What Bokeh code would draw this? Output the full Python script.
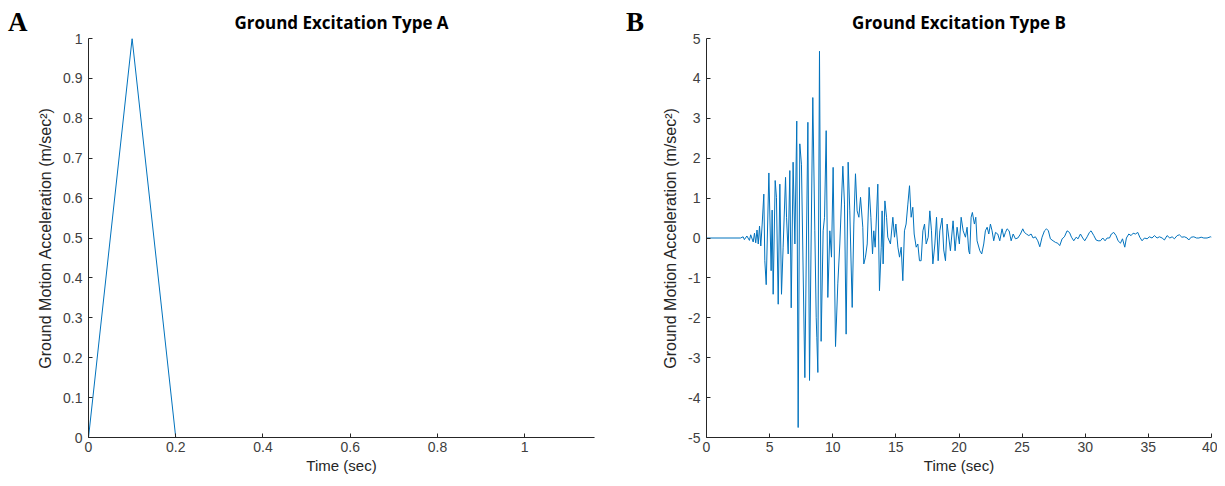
from bokeh.plotting import figure
from bokeh.layouts import row
from bokeh.models import Range1d, FixedTicker, Div
from bokeh.embed import file_html
from bokeh.resources import INLINE

# ---- data: panel A (triangular pulse) ----
time_a = [0.0, 0.1, 0.2, 1.16]
accel_a = [0.0, 1.0, 0.0, 0.0]

# ---- data: panel B (earthquake record) ----
time_b = [0.0, 2.7, 2.9, 3.0, 3.2, 3.4, 3.5, 3.7, 3.8, 3.9, 4.0, 4.1, 4.2, 4.3, 4.41,
          4.54, 4.62, 4.73, 4.94, 5.12, 5.2, 5.28, 5.44, 5.54, 5.68, 5.81, 5.94, 6.07,
          6.26, 6.34, 6.47, 6.6, 6.71, 6.86, 7.0, 7.15, 7.26, 7.39, 7.52, 7.79, 8.03,
          8.16, 8.42, 8.58, 8.69, 8.74, 8.82, 8.95, 9.08, 9.24, 9.35, 9.48, 9.61, 9.77,
          9.9, 10.03, 10.22, 10.4, 10.56, 10.8, 10.93, 11.06, 11.22, 11.35, 11.54, 11.67,
          11.8, 11.93, 12.07, 12.2, 12.38, 12.46, 12.59, 12.73, 12.88, 13.02, 13.15, 13.25,
          13.36, 13.57, 13.7, 13.84, 13.91, 13.99, 14.13, 14.26, 14.36, 14.57, 14.76, 14.89,
          15.0, 15.16, 15.29, 15.42, 15.55, 15.68, 15.81, 15.95, 16.08, 16.21, 16.34, 16.45,
          16.61, 16.74, 16.87, 17.0, 17.14, 17.27, 17.4, 17.56, 17.69, 17.82, 17.93, 18.09,
          18.22, 18.35, 18.48, 18.66, 18.79, 18.93, 19.06, 19.32, 19.53, 19.69, 19.85, 20.03,
          20.17, 20.33, 20.51, 20.64, 20.77, 20.85, 20.96, 21.06, 21.22, 21.33, 21.43, 21.65,
          21.8, 21.96, 22.09, 22.23, 22.36, 22.49, 22.62, 22.75, 22.89, 23.07, 23.23, 23.41,
          23.55, 23.68, 23.81, 23.97, 24.13, 24.29, 24.47, 24.66, 24.87, 25.05, 25.18, 25.34,
          25.53, 25.71, 25.87, 26.05, 26.24, 26.4, 26.58, 26.77, 26.93, 27.08, 27.24, 27.45,
          27.64, 27.82, 27.98, 28.17, 28.35, 28.56, 28.75, 28.91, 29.09, 29.28, 29.43, 29.62,
          29.8, 29.96, 30.15, 30.33, 30.46, 30.68, 30.86, 31.02, 31.2, 31.39, 31.57, 31.73,
          31.92, 32.07, 32.26, 32.44, 32.6, 32.79, 32.95, 33.13, 33.26, 33.45, 33.63, 33.79,
          33.98, 34.16, 34.32, 34.5, 34.69, 34.9, 35.08, 35.29, 35.48, 35.69, 35.88, 36.09,
          36.27, 36.48, 36.7, 36.88, 37.06, 37.28, 37.46, 37.65, 37.86, 38.07, 38.2, 38.39,
          38.6, 38.81, 39.0, 39.18, 39.39, 39.65, 39.92, 40.0]
accel_b = [0.0, 0.0, 0.03, -0.04, 0.05, -0.06, 0.08, -0.1, 0.12, -0.12, 0.2, -0.15, 0.3, -0.2, 0.35,
           1.1, -0.57, -1.17, 1.63, -0.82, 0.7, -1.41, 1.44, 1.02, -1.66, 1.35, -1.41, -0.23,
           1.52, 0.52, -0.4, 1.69, -1.75, 1.9, -0.15, 2.93, -4.75, 2.36, 1.85, -3.5, 2.9,
           -3.57, 3.52, 0.18, -2.0, -2.5, -3.37, 4.68, -2.59, 0.18, 0.52, 2.69, -1.49, 0.18,
           -0.48, 1.77, -2.72, -1.15, -0.15, 1.8, 0.85, -2.41, 1.9, 0.68, -1.74, 0.35,
           1.61, 0.68, 0.52, 1.02, 0.27, -0.65, -0.48, -0.15, 1.27, 0.52, -0.4, 0.18,
           -0.23, 1.35, -1.32, -0.23, 0.68, -0.65, 0.93, 0.52, 0.02, -0.15, 0.52, 0.02,
           0.35, -0.23, -0.48, -0.23, -1.07, 0.18, 0.35, 0.85, 1.31, 0.52, 0.77, 0.1,
           -0.23, -0.15, -0.57, -0.57, 0.18, 0.35, -0.15, 0.02, 0.68, 0.18, -0.65, -0.15,
           0.52, -0.57, 0.18, 0.5, -0.3, -0.57, 0.35, -0.32, 0.43, -0.32, 0.27, -0.15,
           0.52, 0.18, 0.02, 0.27, -0.32, -0.4, 0.52, 0.64, 0.35, 0.52, -0.07, -0.32,
           -0.4, -0.15, 0.18, 0.27, 0.1, 0.35, 0.18, -0.07, 0.14, 0.1, -0.07, 0.23,
           0.02, 0.14, 0.23, 0.18, -0.07, 0.1, -0.02, 0.0, 0.1, 0.23, 0.14, 0.1,
           0.06, 0.1, 0.0, 0.03, -0.07, -0.22, 0.02, 0.18, 0.23, 0.18, -0.02, -0.07,
           -0.11, -0.13, -0.19, -0.02, 0.03, 0.18, 0.14, 0.02, -0.07, 0.02, -0.02, 0.1,
           0.0, -0.07, 0.03, 0.14, 0.18, 0.06, -0.05, -0.07, -0.07, 0.0, -0.07, 0.0,
           0.0, 0.1, 0.14, 0.06, -0.07, -0.13, -0.02, -0.23, 0.0, 0.1, 0.06, 0.12,
           0.1, 0.14, 0.02, -0.07, 0.0, -0.02, 0.03, 0.0, 0.06, 0.0, 0.03, 0.0,
           -0.05, 0.06, 0.0, 0.03, -0.02, 0.06, 0.08, 0.02, 0.03, 0.0, -0.05, 0.02,
           0.03, 0.0, 0.0, 0.02, 0.0, 0.0, 0.03, 0.02]

ticks_ax = [0, 0.2, 0.4, 0.6, 0.8, 1.0]
ticks_ay = [0, 0.1, 0.2, 0.3, 0.4, 0.5, 0.6, 0.7, 0.8, 0.9, 1.0]
ticks_bx = [0, 5, 10, 15, 20, 25, 30, 35, 40]
ticks_by = [-5, -4, -3, -2, -1, 0, 1, 2, 3, 4, 5]

LINE = "#0072BD"
AXC = "#262626"
TICKC = "#404040"
TICKFONT = "Liberation Sans"
YLABEL = "Ground Motion Acceleration (m/sec\u00b2)"


def fmt(v):
    return "%g" % v


def style(p, xt, yt):
    for ax in (p.xaxis, p.yaxis):
        ax.axis_line_color = AXC
        ax.major_tick_line_color = AXC
        ax.major_tick_in = 4
        ax.major_tick_out = 0
        ax.minor_tick_line_color = None
        ax.major_label_text_font = TICKFONT
        ax.major_label_text_font_size = "14px"
        ax.major_label_text_color = TICKC
        ax.axis_label_text_font = TICKFONT
        ax.axis_label_text_font_style = "normal"
        ax.axis_label_text_color = AXC
    p.xaxis.axis_label_text_font_size = "15px"
    p.yaxis.axis_label_text_font_size = "16px"
    p.xaxis.ticker = FixedTicker(ticks=xt)
    p.yaxis.ticker = FixedTicker(ticks=yt)
    p.xaxis.major_label_overrides = {v: fmt(v) for v in xt}
    p.yaxis.major_label_overrides = {v: fmt(v) for v in yt}
    p.xaxis.major_label_standoff = 4
    p.yaxis.major_label_standoff = 6
    p.xaxis.axis_label_standoff = 2
    p.yaxis.axis_label_standoff = 6
    p.xgrid.visible = False
    p.ygrid.visible = False
    p.outline_line_color = None
    p.title.text_font = "Open Sans"
    p.title.text_font_size = "17px"
    p.title.text_font_style = "bold"
    p.title.align = "center"
    p.title.text_color = "#000000"


def letter(t):
    return Div(text=t, width=30, height=40,
               styles={"font-family": "Liberation Serif", "font-weight": "bold",
                       "font-size": "27px", "color": "#000000", "line-height": "27px",
                       "padding-left": "8px", "padding-top": "9px", "margin": "0"})


pa = figure(frame_width=506, frame_height=399, output_backend="svg", toolbar_location=None,
            x_range=Range1d(0, 1.16), y_range=Range1d(0, 1),
            title="Ground Excitation Type A",
            min_border_left=58, min_border_right=24, min_border_top=38, min_border_bottom=30)
pa.line(time_a, accel_a, line_color=LINE, line_width=1.0)
pa.xaxis.axis_label = "Time (sec)"
pa.yaxis.axis_label = YLABEL
style(pa, ticks_ax, ticks_ay)

pb = figure(frame_width=505, frame_height=399, output_backend="svg", toolbar_location=None,
            x_range=Range1d(0, 40), y_range=Range1d(-5, 5),
            title="Ground Excitation Type B",
            min_border_left=58, min_border_right=6, min_border_top=38, min_border_bottom=30)
pb.line(time_b, accel_b, line_color=LINE, line_width=1.0)
pb.xaxis.axis_label = "Time (sec)"
pb.yaxis.axis_label = YLABEL
style(pb, ticks_bx, ticks_by)

layout = row(letter("A"), pa, letter("B"), pb)
open("out.html", "w").write(file_html(layout, INLINE))
